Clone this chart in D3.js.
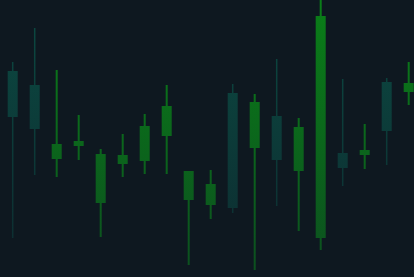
<!DOCTYPE html>
<html>
<head>
<meta charset="utf-8">
<script src="https://cdn.jsdelivr.net/npm/d3@7"></script>
<style>
  html, body { margin: 0; padding: 0; background: #0e1820; overflow: hidden; }
</style>
</head>
<body>
<script>
// chart data (arbitrary price units)
var days = d3.range(1, 20);
var open  = [206, 192, 118, 131, 74, 113, 116, 141, 77, 72, 184, 129, 161, 106, 39, 124, 122, 195, 185];
var close = [160, 148, 133, 136, 123, 122, 151, 171, 106, 93, 69, 175, 117, 150, 261, 109, 127, 146, 194];
var high  = [215, 249, 207, 162, 128, 143, 163, 192, 106, 107, 193, 183, 218, 159, 282, 198, 153, 199, 215];
var low   = [39, 102, 100, 117, 40, 100, 103, 103, 12, 58, 64, 7, 71, 46, 27, 91, 108, 112, 172];

var svgWidth = 414;
var svgHeight = 277;

var svg = d3.select("body")
  .append("svg")
  .attr("width", svgWidth)
  .attr("height", svgHeight);

svg.append("rect")
  .attr("width", svgWidth)
  .attr("height", svgHeight)
  .attr("fill", "#0e1820");

// vertical gradients for up / down candles
var defs = svg.append("defs");
function grad(id, top, bottom) {
  var g = defs.append("linearGradient")
    .attr("id", id)
    .attr("gradientUnits", "userSpaceOnUse")
    .attr("x1", 0).attr("y1", 0)
    .attr("x2", 0).attr("y2", svgHeight);
  g.append("stop").attr("offset", "0%").attr("stop-color", top);
  g.append("stop").attr("offset", "100%").attr("stop-color", bottom);
}
grad("upGrad", "#0a7e18", "#0c4f1f");
grad("downGrad", "#0b4a42", "#0d2b2f");

var xScale = d3.scaleLinear()
  .domain([1, 19])
  .range([12.7, 408.7]);

var yScale = d3.scaleLinear()
  .domain([0, 277])
  .range([svgHeight, 0]);

var bodyWidth = 10;

var candles = days.map(function(d, i) {
  return { day: d, open: open[i], close: close[i], high: high[i], low: low[i] };
});

var g = svg.selectAll("g.candle")
  .data(candles)
  .enter()
  .append("g")
  .attr("class", "candle");

// wicks
g.append("line")
  .attr("x1", d => xScale(d.day))
  .attr("x2", d => xScale(d.day))
  .attr("y1", d => yScale(d.high))
  .attr("y2", d => yScale(d.low))
  .attr("stroke", d => d.close >= d.open ? "url(#upGrad)" : "url(#downGrad)")
  .attr("stroke-width", d => d.close >= d.open ? 2 : 1.5);

// bodies
g.append("rect")
  .attr("x", d => xScale(d.day) - bodyWidth / 2)
  .attr("y", d => yScale(Math.max(d.open, d.close)))
  .attr("width", bodyWidth)
  .attr("height", d => Math.max(1, Math.abs(yScale(d.open) - yScale(d.close))))
  .attr("fill", d => d.close >= d.open ? "url(#upGrad)" : "url(#downGrad)");
</script>
</body>
</html>
